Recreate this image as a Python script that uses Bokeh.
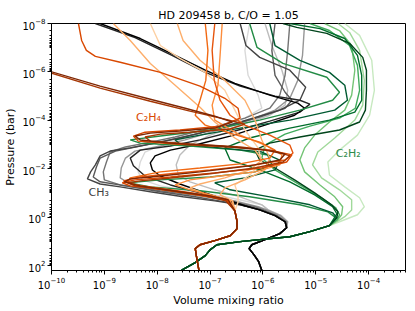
import numpy as np
from bokeh.plotting import figure
from bokeh.models import Range1d, FixedTicker, Label
from bokeh.embed import file_html
from bokeh.resources import INLINE

# ---------------- data (log10 of mixing ratio, log10 of pressure in bar) ----------------
# CH3 curves, light -> dark
ch3_colors = ["#d9d9d9", "#bdbdbd", "#969696", "#737373", "#5a5a5a", "#444444", "#252525", "#000000"]
ch3_logx = [
    [-6.25,-6.34,-6.28,-6.09,-6.02,-6.34,-6.91,-7.47,-7.94,-8.23,-8.32,-8.36,-8.28,-7.94,-7.28,-6.62,-6.02,-5.90,-5.65,-5.53],
    [-5.96,-5.83,-5.64,-5.53,-5.58,-5.87,-6.43,-7.00,-7.38,-7.57,-7.64,-7.60,-7.38,-6.91,-6.43,-6.02,-5.90,-5.65,-5.53],
    [-5.21,-5.25,-5.34,-5.49,-5.77,-6.25,-6.91,-7.47,-7.94,-8.42,-8.60,-8.68,-8.70,-8.51,-7.85,-7.09,-6.53,-6.09,-5.92,-5.67,-5.54],
    [-5.49,-5.53,-5.58,-5.68,-5.87,-6.34,-7.00,-7.66,-8.13,-8.60,-8.89,-8.96,-9.02,-9.00,-8.70,-7.94,-7.19,-6.62,-6.15,-5.98,-5.72,-5.56],
    [-5.77,-5.83,-5.77,-5.58,-5.45,-5.58,-6.06,-6.81,-7.57,-8.32,-8.79,-9.08,-9.15,-9.21,-9.08,-8.60,-7.94,-7.28,-6.72,-6.25,-6.02,-5.75,-5.57],
    [-6.43,-6.32,-6.06,-5.49,-5.19,-5.30,-5.68,-6.43,-7.19,-7.94,-8.51,-8.89,-9.08,-9.17,-9.26,-9.32,-9.08,-8.70,-8.13,-7.51,-6.91,-6.43,-6.06,-5.77,-5.58],
    [-9.17,-8.42,-7.72,-7.09,-6.43,-5.77,-5.30,-5.11,-5.30,-5.87,-6.53,-7.19,-7.75,-8.32,-8.51,-8.45,-8.23,-7.75,-7.19,-6.72,-6.34,-6.06,-5.77,-5.58],
    [-9.08,-8.32,-7.66,-7.09,-6.53,-5.87,-5.34,-5.21,-5.40,-5.96,-6.62,-7.28,-7.75,-8.04,-8.13,-8.09,-7.94,-7.57,-7.09,-6.72,-6.34,-6.06,-5.77,-5.58],
]
ch3_logp = [
    [-8,-6.89,-5.86,-5.04,-4.50,-4.09,-3.68,-3.27,-2.98,-2.69,-2.28,-1.87,-1.54,-1.29,-1.05,-0.80,-0.51,-0.30,-0.06,0.19],
    [-8,-7.09,-6.07,-5.24,-4.63,-4.21,-3.80,-3.39,-2.98,-2.57,-2.16,-1.74,-1.46,-1.13,-0.84,-0.51,-0.30,-0.06,0.19],
    [-8,-6.68,-5.65,-4.91,-4.42,-4.01,-3.56,-3.19,-2.94,-2.73,-2.44,-2.03,-1.62,-1.37,-1.13,-0.88,-0.67,-0.43,-0.30,-0.06,0.19],
    [-8,-6.89,-5.86,-5.04,-4.50,-4.09,-3.68,-3.31,-3.10,-2.90,-2.69,-2.28,-1.87,-1.54,-1.33,-1.09,-0.88,-0.67,-0.43,-0.30,-0.06,0.19],
    [-8,-6.89,-5.86,-5.16,-4.83,-4.50,-4.13,-3.68,-3.27,-2.94,-2.73,-2.44,-2.07,-1.66,-1.46,-1.29,-1.05,-0.84,-0.63,-0.43,-0.30,-0.06,0.19],
    [-8,-7.09,-6.60,-6.07,-5.37,-4.83,-4.42,-3.93,-3.47,-3.10,-2.86,-2.73,-2.53,-2.16,-1.87,-1.58,-1.37,-1.25,-1.05,-0.84,-0.67,-0.51,-0.30,-0.06,0.19],
    [-8,-7.42,-6.68,-5.98,-5.41,-5.00,-4.83,-4.67,-4.34,-3.97,-3.56,-3.19,-2.94,-2.77,-2.44,-2.12,-1.70,-1.33,-1.00,-0.76,-0.47,-0.30,-0.06,0.19],
    [-8,-7.38,-6.68,-6.07,-5.53,-5.04,-4.71,-4.50,-4.21,-3.80,-3.35,-2.98,-2.77,-2.53,-2.24,-1.95,-1.70,-1.37,-1.00,-0.72,-0.47,-0.30,-0.06,0.19],
]
ch3_tail_logx = [-5.55,-5.68,-5.96,-6.21,-6.26,-6.17,-6.08,-6.02,-6.00]
ch3_tail_logp = [0.44,0.68,0.93,1.14,1.30,1.55,1.84,2.20,2.30]

# C2H2 curves, light -> dark
c2h2_colors = ["#c7e9c0", "#a1d99b", "#74c476", "#41ab5d", "#238b45", "#005a32", "#006d2c", "#00441b"]
c2h2_logx = [
    [-4.45,-4.17,-3.94,-3.89,-3.98,-4.21,-4.55,-4.77,-4.74,-4.45,-4.17,-4.08,-4.21,-4.55],
    [-4.58,-4.36,-4.17,-4.08,-4.11,-4.26,-4.64,-4.96,-5.06,-4.89,-4.55,-4.32,-4.32,-4.45,-4.60],
    [-4.83,-4.55,-4.32,-4.26,-4.32,-4.45,-4.74,-5.02,-5.21,-5.30,-5.21,-4.92,-4.64,-4.49,-4.51,-4.60],
    [-5.11,-4.74,-4.36,-4.21,-4.17,-4.25,-4.55,-5.11,-5.58,-5.96,-6.02,-5.77,-5.30,-4.89,-4.62,-4.55,-4.60],
    [-6.25,-6.11,-5.62,-4.79,-4.55,-4.68,-5.30,-6.06,-7.00,-7.94,-8.51,-8.32,-7.38,-6.43,-5.91,-5.83,-6.15,-7.00,-7.94,-8.55,-8.13,-7.19,-6.25,-5.30,-4.77,-4.62],
    [-5.87,-5.77,-5.30,-4.74,-4.45,-4.40,-4.64,-5.49,-6.43,-7.19,-7.66,-7.57,-6.81,-6.02,-5.68,-5.77,-6.34,-6.91,-6.62,-5.87,-5.11,-4.68,-4.60],
    [-5.49,-4.92,-4.45,-4.21,-4.13,-4.13,-4.26,-4.74,-5.49,-6.25,-6.72,-6.62,-6.06,-5.49,-5.02,-4.68,-4.60],
    [-5.62,-5.36,-4.79,-4.36,-4.11,-4.04,-4.04,-4.06,-4.17,-4.55,-5.30,-5.87,-6.15,-6.06,-5.77,-5.40,-5.02,-4.70,-4.58,-4.60],
]
c2h2_logp = [
    [-8,-7.51,-6.48,-5.24,-4.21,-3.39,-2.77,-2.28,-1.74,-1.25,-0.80,-0.43,-0.10,0.19],
    [-8,-7.63,-6.89,-5.65,-4.63,-4.01,-3.27,-2.69,-2.16,-1.62,-1.13,-0.72,-0.30,-0.02,0.19],
    [-8,-7.71,-7.09,-6.07,-5.04,-4.42,-3.93,-3.39,-2.86,-2.36,-1.87,-1.33,-0.84,-0.43,-0.10,0.15],
    [-8,-7.71,-7.09,-6.27,-5.24,-4.50,-4.09,-3.76,-3.43,-2.98,-2.44,-1.95,-1.33,-0.80,-0.39,-0.10,0.11],
    [-8,-7.01,-6.35,-5.78,-5.16,-4.83,-4.42,-4.01,-3.60,-3.35,-3.19,-3.06,-2.94,-2.77,-2.57,-2.16,-1.87,-1.66,-1.54,-1.42,-1.25,-1.09,-0.84,-0.51,-0.22,0.02],
    [-8,-7.09,-6.48,-5.98,-5.45,-4.83,-4.42,-4.01,-3.68,-3.39,-3.19,-3.02,-2.86,-2.69,-2.36,-1.95,-1.62,-1.42,-1.13,-0.84,-0.51,-0.18,0.02],
    [-8,-7.79,-7.38,-6.68,-5.86,-4.83,-4.34,-4.01,-3.68,-3.27,-2.86,-2.36,-1.95,-1.46,-0.92,-0.43,-0.14],
    [-8,-7.84,-7.59,-7.18,-6.60,-6.07,-5.24,-4.42,-3.93,-3.60,-3.31,-3.06,-2.77,-2.36,-2.03,-1.54,-1.00,-0.51,-0.22,0.02],
]
c2h2_tail_logx = [-4.74,-5.11,-5.49,-6.06,-6.43,-6.87,-7.00,-7.09,-7.28,-7.51,-7.60]
c2h2_tail_logp = [0.35,0.60,0.81,0.93,1.01,1.14,1.35,1.59,1.88,2.16,2.29]

# C2H4 curves, light -> dark
c2h4_colors = ["#fdd0a2", "#fdae6b", "#fdae6b", "#fd8d3c", "#f16913", "#e6550d", "#d94801", "#a63603", "#7f2704"]
c2h4_logx = [
    [-8.13,-7.94,-7.57,-7.09,-6.72,-6.53,-6.34,-6.09,-6.02,-6.25,-6.53,-6.47,-6.47],
    [-8.83,-8.51,-8.13,-7.66,-7.19,-6.91,-6.53,-6.15,-6.02,-6.25,-6.72,-7.19,-7.38,-7.09,-6.58],
    [-7.62,-7.51,-7.19,-6.72,-6.34,-6.15,-6.02,-5.87,-5.96,-6.34,-6.72,-6.81,-6.57],
    [-6.77,-6.81,-6.85,-6.96,-6.91,-6.43,-5.96,-5.64,-5.68,-6.15,-6.81,-7.38,-7.66,-7.38,-6.91,-6.62],
    [-7.09,-7.04,-7.08,-7.19,-7.28,-7.09,-6.62,-6.06,-5.77,-5.87,-6.43,-7.19,-7.94,-8.51,-8.57,-8.13,-7.47,-6.91,-6.66],
    [-6.91,-6.96,-6.92,-6.81,-6.62,-6.34,-5.87,-5.49,-5.43,-5.58,-6.15,-7.00,-7.75,-8.32,-8.64,-8.42,-7.75,-7.09,-6.68],
    [-9.49,-9.43,-9.34,-9.17,-8.70,-7.94,-7.19,-6.72,-6.47,-6.43,-6.81,-7.57,-8.23,-8.45,-8.36,-7.66,-6.62,-5.87,-5.45,-5.55,-6.02,-6.91,-7.75,-8.42,-8.66,-8.51,-7.85,-7.19,-6.70],
    [-10.3,-9.08,-8.13,-7.38,-6.72,-6.34,-6.62,-7.38,-7.94,-8.23,-8.13,-7.38,-6.43,-5.77,-5.49,-5.62,-6.15,-7.00,-7.75,-8.32,-8.55,-8.42,-7.75,-7.09,-6.70],
    [-10.3,-9.08,-8.13,-7.47,-6.91,-6.58,-6.91,-7.57,-8.13,-8.42,-8.32,-7.75,-6.81,-5.96,-5.58,-5.68,-6.25,-7.19,-7.94,-8.51,-8.62,-8.32,-7.57,-7.00,-6.66],
]
c2h4_logp = [
    [-8,-7.09,-6.56,-5.98,-5.24,-4.42,-3.60,-2.86,-2.28,-1.74,-1.33,-0.92,-0.63],
    [-8,-7.30,-6.35,-5.45,-4.54,-3.93,-3.27,-2.77,-2.36,-1.95,-1.62,-1.37,-1.21,-0.96,-0.67],
    [-8,-7.30,-6.48,-5.65,-4.83,-4.01,-3.19,-2.44,-1.95,-1.54,-1.21,-0.92,-0.67],
    [-8,-6.68,-5.45,-4.63,-4.01,-3.39,-2.98,-2.57,-2.16,-1.87,-1.70,-1.54,-1.33,-1.13,-0.88,-0.67],
    [-8,-6.89,-5.65,-4.83,-4.21,-3.80,-3.47,-3.10,-2.77,-2.44,-2.20,-2.03,-1.87,-1.62,-1.42,-1.21,-1.00,-0.80,-0.67],
    [-8,-6.89,-5.65,-4.83,-4.21,-3.80,-3.39,-2.98,-2.65,-2.36,-2.16,-1.95,-1.79,-1.66,-1.50,-1.33,-1.13,-0.92,-0.72],
    [-8,-7.30,-6.89,-6.64,-6.40,-5.98,-5.41,-4.91,-4.50,-4.09,-3.76,-3.60,-3.51,-3.35,-3.14,-3.02,-2.90,-2.77,-2.57,-2.28,-2.03,-1.83,-1.66,-1.54,-1.42,-1.29,-1.13,-0.92,-0.72],
    [-6.15,-5.33,-4.79,-4.38,-4.05,-3.84,-3.64,-3.51,-3.43,-3.31,-3.14,-3.02,-2.90,-2.73,-2.53,-2.28,-2.03,-1.79,-1.62,-1.50,-1.42,-1.29,-1.09,-0.88,-0.67],
    [-6.20,-5.41,-4.87,-4.50,-4.17,-3.93,-3.68,-3.56,-3.47,-3.35,-3.19,-3.06,-2.94,-2.77,-2.61,-2.36,-2.12,-1.87,-1.70,-1.58,-1.46,-1.29,-1.05,-0.88,-0.72],
]
c2h4_tail_logx = [-6.53,-6.49,-6.49,-6.62,-6.91,-7.19,-7.28,-7.25,-7.21,-7.20]
c2h4_tail_logp = [-0.26,0.16,0.48,0.77,0.97,1.14,1.30,1.71,2.20,2.30]

x_major = [1e-10, 1e-9, 1e-8, 1e-7, 1e-6, 1e-5, 1e-4]
y_major = [1e-8, 1e-6, 1e-4, 1e-2, 1e0, 1e2]

# ---------------- figure ----------------
p = figure(width=415, height=311, x_axis_type="log", y_axis_type="log",
           x_range=Range1d(1e-10, 5e-4), y_range=Range1d(160, 1e-8),
           output_backend="svg", toolbar_location=None,
           title="HD 209458 b, C/O = 1.05",
           min_border_left=51, min_border_right=10, min_border_top=23, min_border_bottom=41)
p.grid.visible = False
p.outline_line_color = "black"
p.outline_line_width = 1
p.background_fill_color = "white"
p.border_fill_color = "white"

p.title.align = "center"
p.title.text_font = "DejaVu Sans"
p.title.text_font_size = "11px"
p.title.text_font_style = "normal"
p.title.text_color = "black"
p.title.standoff = 4

def add_family(lx, lp, tx, tp, colors):
    for xs, ps, c in zip(lx, lp, colors):
        xx = np.concatenate([xs, tx])
        pp = np.concatenate([ps, tp])
        p.line(10.0 ** xx, 10.0 ** pp, line_color=c, line_width=1.4)

add_family(ch3_logx, ch3_logp, ch3_tail_logx, ch3_tail_logp, ch3_colors)
add_family(c2h2_logx, c2h2_logp, c2h2_tail_logx, c2h2_tail_logp, c2h2_colors)
add_family(c2h4_logx, c2h4_logp, c2h4_tail_logx, c2h4_tail_logp, c2h4_colors)

x_minor = [k * 10.0 ** d for d in range(-10, -3) for k in range(2, 10)]
y_minor = [k * 10.0 ** d for d in range(-9, 3) for k in range(1, 10) if not (k == 1 and d % 2 == 0)]
p.xaxis.ticker = FixedTicker(ticks=x_major, minor_ticks=x_minor)
p.yaxis.ticker = FixedTicker(ticks=y_major, minor_ticks=y_minor)

for ax in (p.xaxis, p.yaxis):
    ax.axis_line_color = "black"
    ax.major_tick_line_color = "black"
    ax.minor_tick_line_color = "black"
    ax.major_tick_out = 4
    ax.major_tick_in = 0
    ax.minor_tick_out = 2
    ax.minor_tick_in = 0
    ax.major_label_text_font = "DejaVu Sans"
    ax.major_label_text_font_size = "10px"
    ax.major_label_text_color = "black"
    ax.axis_label_text_font = "DejaVu Sans"
    ax.axis_label_text_font_size = "11px"
    ax.axis_label_text_font_style = "normal"
    ax.axis_label_text_color = "black"
    ax.axis_label_standoff = 2
    ax.major_label_standoff = 2

p.xaxis.axis_label = "Volume mixing ratio"
p.yaxis.axis_label = "Pressure (bar)"

p.add_layout(Label(x=10 ** -8.40, y=10 ** -4.13, text="C\u2082H\u2084", text_color="#d94801",
                   text_font="DejaVu Sans", text_font_size="11px", text_baseline="middle"))
p.add_layout(Label(x=10 ** -9.30, y=10 ** -1.00, text="CH\u2083", text_color="#404040",
                   text_font="DejaVu Sans", text_font_size="11px", text_baseline="middle"))
p.add_layout(Label(x=10 ** -4.62, y=10 ** -2.65, text="C\u2082H\u2082", text_color="#2d8a49",
                   text_font="DejaVu Sans", text_font_size="11px", text_baseline="middle"))

open("out.html", "w").write(file_html(p, INLINE))
